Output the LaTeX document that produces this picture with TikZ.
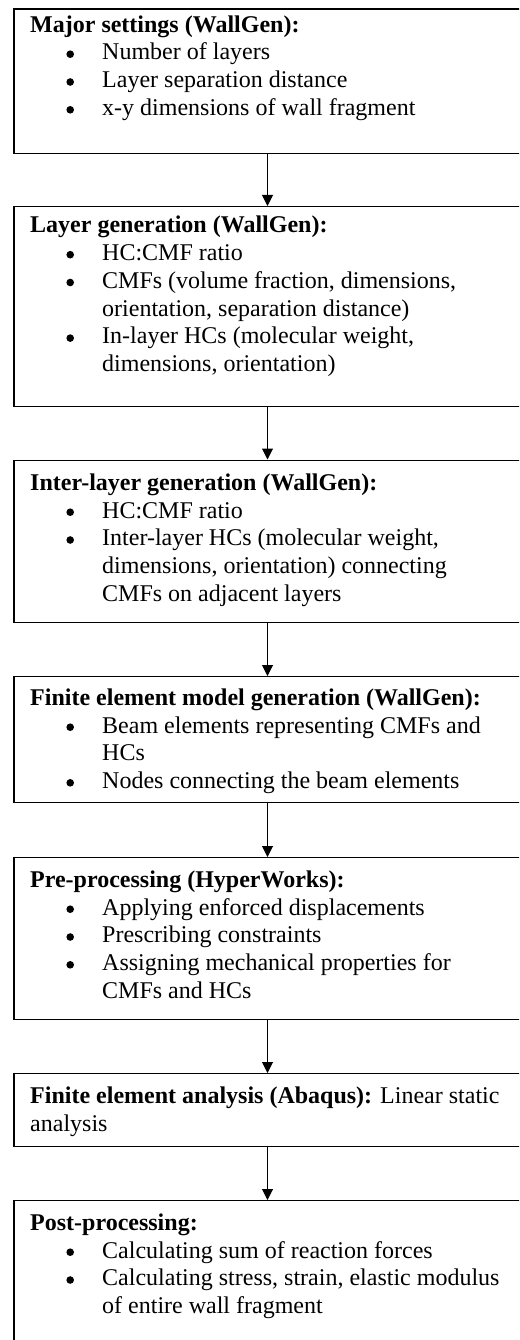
\documentclass[tikz,border=0pt]{standalone}
\usepackage{fontspec}
\setmainfont{Liberation Serif}
\usetikzlibrary{arrows.meta}
\newcommand\bldot{\rule{0pt}{0pt}\raisebox{2pt}{\tikz\fill[x=1pt,y=1pt] (0,0) circle[radius=3.8pt];}}
\newcommand\bl{\hspace*{40pt}\makebox[0pt][c]{\bldot}\hspace*{32pt}}
\newcommand\ct{\hspace*{72pt}}
\newcommand\fst{\rule{0pt}{22pt}}
\tikzset{
  box/.style={draw, line width=1.2pt, minimum width=507pt, inner sep=0pt, anchor=north},
  txt/.style={anchor=north west, inner sep=0pt, align=left, font={\fontsize{24}{27.8}\selectfont}},
  arr/.style={line width=1pt, -{Triangle[width=11pt,length=11pt]}}
}
\begin{document}
\begin{tikzpicture}[x=1pt,y=-1pt]
\useasboundingbox (0,0) rectangle (519,1340);
\clip (0,0) rectangle (519,1340);
% boxes
\node[box, minimum height=144.5pt] (b1) at (267.5,8.5) {};
\node[box, minimum height=200pt] (b2) at (267.5,206) {};
\node[box, minimum height=162.5pt] (b3) at (267.5,459.5) {};
\node[box, minimum height=126pt] (b4) at (267.5,676) {};
\node[box, minimum height=162pt] (b5) at (267.5,857) {};
\node[box, minimum height=73pt] (b6) at (267.5,1073) {};
\node[box, minimum height=170pt] (b7) at (267.5,1200) {};
% texts
\node[txt] (t1) at (30,10) {\fst\textbf{Major settings (WallGen):}\\
\bl Number of layers\\
\bl Layer separation distance\\
\bl x-y dimensions of wall fragment};
\node[txt] (t2) at (30,210.5) {\fst\textbf{Layer generation (WallGen):}\\
\bl HC:CMF ratio\\
\bl CMFs (volume fraction, dimensions,\\
\ct orientation, separation distance)\\
\bl In-layer HCs (molecular weight,\\
\ct dimensions, orientation)};
\node[txt] (t3) at (30,468) {\fst\textbf{Inter-layer generation (WallGen):}\\
\bl HC:CMF ratio\\
\bl Inter-layer HCs (molecular weight,\\
\ct dimensions, orientation) connecting\\
\ct CMFs on adjacent layers};
\node[txt] (t4) at (30,683) {\fst\textbf{Finite element model generation (WallGen):}\\
\bl Beam elements representing CMFs and\\
\ct HCs\\
\bl Nodes connecting the beam elements};
\node[txt] (t5) at (30,865) {\fst\textbf{Pre-processing (HyperWorks):}\\
\bl Applying enforced displacements\\
\bl Prescribing constraints\\
\bl Assigning mechanical properties for\\
\ct CMFs and HCs};
\node[txt] (t6) at (30,1081) {\fst\textbf{Finite element analysis (Abaqus):} Linear static\\
analysis};
\node[txt] (t7) at (30,1208) {\fst\textbf{Post-processing:}\\
\bl Calculating sum of reaction forces\\
\bl Calculating stress, strain, elastic modulus\\
\ct of entire wall fragment};
% arrows
\draw[arr] (b1.south) -- (b2.north);
\draw[arr] (b2.south) -- (b3.north);
\draw[arr] (b3.south) -- (b4.north);
\draw[arr] (b4.south) -- (b5.north);
\draw[arr] (b5.south) -- (b6.north);
\draw[arr] (b6.south) -- (b7.north);
\end{tikzpicture}
\end{document}
